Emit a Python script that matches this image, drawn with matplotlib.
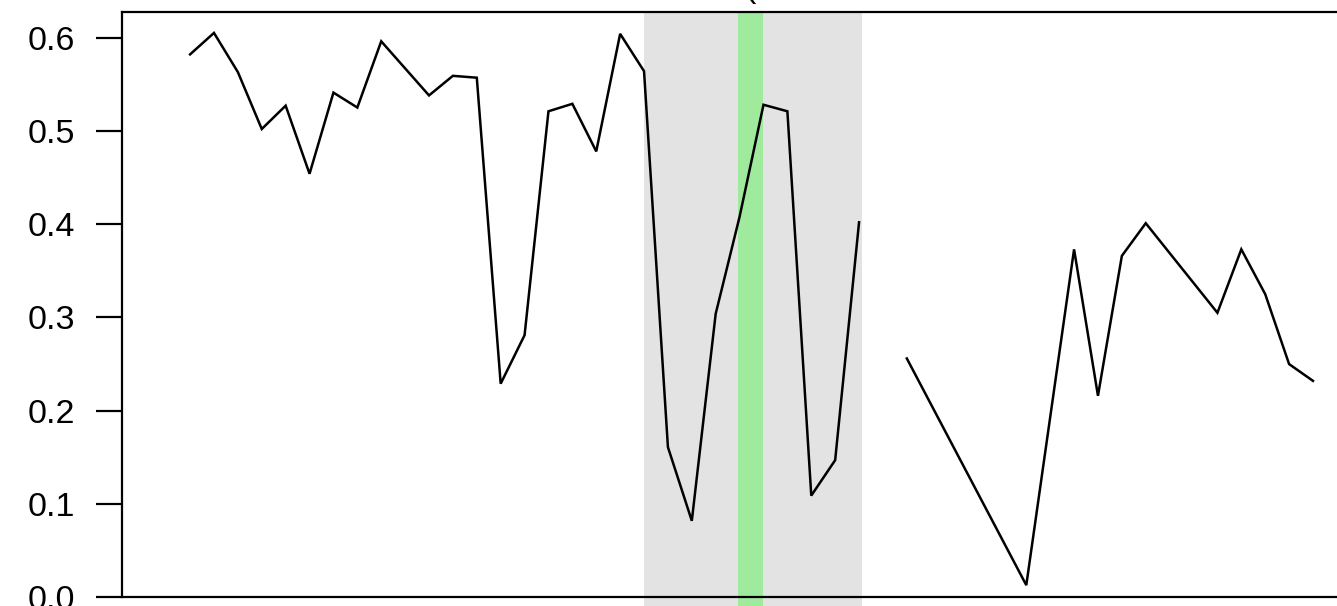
"""Daily series with a shaded window and a highlighted day."""
import matplotlib.pyplot as plt
import numpy as np

plt.rcParams["font.family"] = ["Liberation Sans", "DejaVu Sans"]

# observation index and value (NaN = missing, breaks the line)
x_idx = [0, 1, 2, 3, 4, 5, 6, 7, 8, 10, 11, 12, 13, 14, 15, 16, 17, 18, 19,
         20, 21, 22, 23, 24, 25, 26, 27, 28, 29, 30, 35, 37, 38, 39, 40,
         43, 44, 45, 46, 47]
values = [0.582, 0.605, 0.563, 0.502, 0.527, 0.454, 0.541, 0.525, 0.596,
          0.538, 0.559, 0.557, 0.229, 0.281, 0.521, 0.529, 0.478, 0.604,
          0.564, 0.161, 0.082, 0.304, 0.408, 0.528, 0.521, 0.109, 0.147,
          0.402, np.nan, 0.256, 0.013, 0.373, 0.216, 0.366, 0.401,
          0.305, 0.373, 0.325, 0.250, 0.232]

window = (19.0, 28.12)      # grey shaded period
highlight = (22.94, 23.97)  # green marked day
y_ticks = [0.0, 0.1, 0.2, 0.3, 0.4, 0.5, 0.6]

fig = plt.figure(figsize=(13.37, 6.06), dpi=100)
# axes run past the right and bottom edge of the canvas (cropped view)
ax = fig.add_axes([0.09125, 0.01436, 0.9444, 0.9658])

ax.axvspan(*window, ymin=-0.2, ymax=1.0, color="#e3e3e3", lw=0,
           clip_on=False, zorder=0)
ax.axvspan(*highlight, ymin=-0.2, ymax=1.0, color="#a0ea9e", lw=0,
           clip_on=False, zorder=1)

ax.plot(x_idx, values, color="black", lw=1.8, zorder=3,
        solid_joinstyle="miter")

ax.set_xlim(-2.85, 50.0)
ax.set_ylim(0, 0.6274)
ax.set_yticks(y_ticks)
ax.set_yticklabels([f"{t:.1f}" for t in y_ticks])
ax.set_xticks([])
ax.tick_params(axis="y", length=18.7, width=1.6, pad=15, labelsize=24.5)
for s in ax.spines.values():
    s.set_linewidth(1.6)
    s.set_zorder(4)

# tail of the cropped title
fig.text(751 / 1337, 1.0056, "(", fontsize=24.5, ha="center", va="baseline")

plt.savefig("out.png", dpi=100)
plt.close()
